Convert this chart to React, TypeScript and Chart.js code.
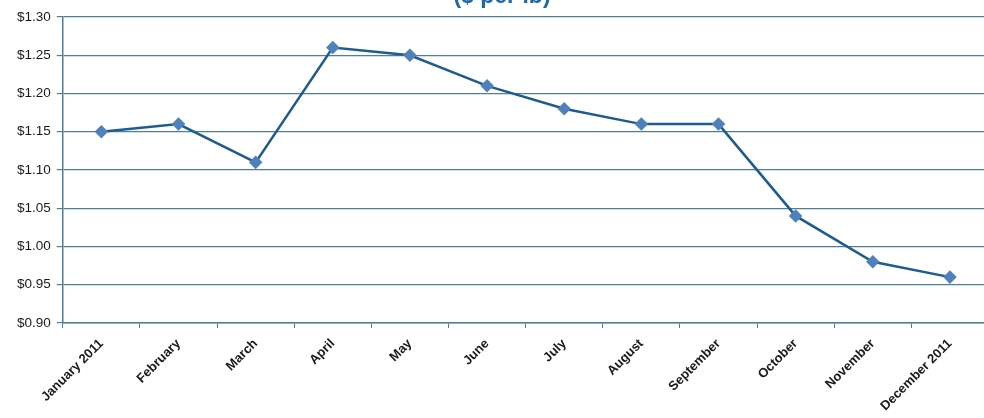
import React, { useEffect, useRef } from "react";
import { Chart, registerables } from "chart.js";

Chart.register(...registerables);

const months = [
  "January 2011", "February", "March", "April", "May", "June",
  "July", "August", "September", "October", "November", "December 2011",
];
const prices = [1.15, 1.16, 1.11, 1.26, 1.25, 1.21, 1.18, 1.16, 1.16, 1.04, 0.98, 0.96];
const titleText = "($ per lb)";
const yMin = 0.9;
const yMax = 1.3;
const yStep = 0.05;

export default function App() {
  const ref = useRef<HTMLCanvasElement>(null);
  useEffect(() => {
    if (!ref.current) return;
    const chart = new Chart(ref.current, {
      type: "line",
      data: {
        labels: months,
        datasets: [
          {
            data: prices,
            borderColor: "#1F5C8E",
            borderWidth: 2.5,
            pointStyle: "rectRot",
            pointRadius: 5,
            pointBackgroundColor: "#4F81BD",
            pointBorderColor: "#4F81BD",
            tension: 0,
          },
        ],
      },
      options: {
        animation: false,
        responsive: true,
        maintainAspectRatio: false,
        layout: { padding: { left: 11, right: 3, top: 0, bottom: 0 } },
        plugins: {
          legend: { display: false },
          tooltip: { enabled: false },
          title: {
            display: true,
            text: titleText,
            color: "#1F69A6",
            font: { family: "Liberation Sans", size: 23, weight: "bold" },
            padding: { top: 11.2, bottom: 6.2 },
          },
        },
        scales: {
          x: {
            offset: true,
            grid: {
              offset: true,
              drawOnChartArea: false,
              drawTicks: true,
              tickLength: 5,
              color: "#4C7F9C",
            },
            border: { display: true, color: "#4C7F9C", width: 1.5 },
            ticks: {
              maxRotation: 45,
              minRotation: 45,
              autoSkip: false,
              color: "#1a1a1a",
              padding: 8,
              font: { family: "Liberation Sans", size: 13, weight: "bold" },
            },
          },
          y: {
            min: yMin,
            max: yMax,
            grid: { color: "#4C7F9C", lineWidth: 1.2, tickLength: 6 },
            border: { display: true, color: "#4C7F9C", width: 1.5 },
            ticks: {
              stepSize: yStep,
              color: "#1a1a1a",
              padding: 6,
              font: { family: "Liberation Sans", size: 13.5 },
              callback: (v: any) => "$" + Number(v).toFixed(2),
            },
          },
        },
      },
    });
    return () => chart.destroy();
  }, []);
  return (
    <div style={{ position: "fixed", left: 0, top: -28, width: 996, height: 450, background: "#fff" }}>
      <canvas ref={ref} />
    </div>
  );
}
